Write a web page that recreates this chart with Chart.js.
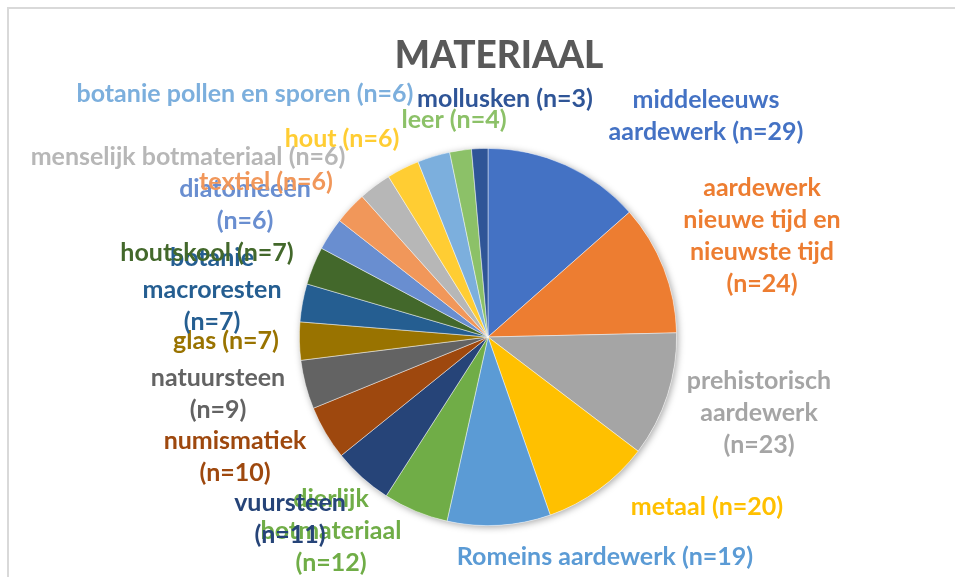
<!DOCTYPE html>
<html>
<head>
<meta charset="utf-8">
<script src="https://cdn.jsdelivr.net/npm/chart.js@4/dist/chart.umd.min.js"></script>
<style>
  html, body { margin: 0; padding: 0; background: #ffffff; }
  #wrap { width: 955px; height: 577px; position: relative; }
</style>
</head>
<body>
<div id="wrap"><canvas id="c" width="955" height="577"></canvas></div>
<script>
const chartTitle = "MATERIAAL";
const categories = [
  "middeleeuws aardewerk",
  "aardewerk nieuwe tijd en nieuwste tijd",
  "prehistorisch aardewerk",
  "metaal",
  "Romeins aardewerk",
  "dierlijk botmateriaal",
  "vuursteen",
  "numismatiek",
  "natuursteen",
  "glas",
  "botanie macroresten",
  "houtskool",
  "diatomeeën",
  "textiel",
  "menselijk botmateriaal",
  "hout",
  "botanie pollen en sporen",
  "leer",
  "mollusken"
];
const counts = [29, 24, 23, 20, 19, 12, 11, 10, 9, 7, 7, 7, 6, 6, 6, 6, 6, 4, 3];
const sliceColors = [
  "#4472C4", "#ED7D31", "#A5A5A5", "#FFC000", "#5B9BD5", "#70AD47",
  "#264478", "#9E480E", "#636363", "#997300", "#255E91", "#43682B",
  "#698ED0", "#F1975A", "#B7B7B7", "#FFCD33", "#7CAFDD", "#8CC168", "#2F5597"
];
// label block centre offsets from the pie centre (px) and wrap width (px)
const labelOffsets = [
  [218, -221, 205], [274, -101, 165], [271, 76, 155], [219, 170, 9999], [117, 220, 9999],
  [-157, 194, 150], [-198, 182, 120], [-253, 120, 160], [-270, 57, 150], [-262, 4, 9999],
  [-276, -47, 150], [-281, -84, 9999], [-243, -132, 145], [-222, -155, 9999], [-300, -180, 9999],
  [-146, -198, 9999], [-243, -243, 9999], [-34, -217, 9999], [17, -238, 9999]
];

const FONT = "Lato, 'Open Sans', sans-serif";
const LABEL_SIZE = 25;
const LINE_H = 32;

function wrapText(ctx, text, maxW) {
  const words = text.split(" ");
  const lines = [];
  let cur = "";
  for (const w of words) {
    const test = cur ? cur + " " + w : w;
    if (cur && ctx.measureText(test).width > maxW) {
      lines.push(cur);
      cur = w;
    } else {
      cur = test;
    }
  }
  if (cur) lines.push(cur);
  return lines;
}

const framePlugin = {
  id: "frame",
  beforeDraw(chart) {
    const ctx = chart.ctx;
    ctx.save();
    ctx.fillStyle = "#ffffff";
    ctx.fillRect(0, 0, chart.width, chart.height);
    ctx.strokeStyle = "#D9D9D9";
    ctx.lineWidth = 2;
    ctx.beginPath();
    ctx.moveTo(8, chart.height + 5);
    ctx.lineTo(8, 8);
    ctx.lineTo(chart.width + 5, 8);
    ctx.stroke();
    // title
    ctx.fillStyle = "#595959";
    ctx.font = "900 37px " + FONT;
    ctx.textAlign = "center";
    ctx.textBaseline = "middle";
    ctx.fillText(chartTitle, 499, 56);
    ctx.restore();
  }
};

const shadowPlugin = {
  id: "pieShadow",
  beforeDatasetsDraw(chart) {
    const arc = chart.getDatasetMeta(0).data[0];
    if (!arc) return;
    const ctx = chart.ctx;
    ctx.save();
    ctx.shadowColor = "rgba(0,0,0,0.35)";
    ctx.shadowBlur = 7;
    ctx.shadowOffsetX = 1.5;
    ctx.shadowOffsetY = 1.5;
    ctx.fillStyle = "#ffffff";
    ctx.beginPath();
    ctx.arc(arc.x, arc.y, arc.outerRadius, 0, Math.PI * 2);
    ctx.fill();
    ctx.restore();
  }
};

const labelPlugin = {
  id: "sliceLabels",
  afterDatasetsDraw(chart) {
    const meta = chart.getDatasetMeta(0);
    const ctx = chart.ctx;
    ctx.save();
    ctx.font = "bold " + LABEL_SIZE + "px " + FONT;
    ctx.textAlign = "center";
    ctx.textBaseline = "middle";
    meta.data.forEach((arc, i) => {
      const text = categories[i] + " (n=" + counts[i] + ")";
      const [dx, dy, w] = labelOffsets[i];
      const lines = wrapText(ctx, text, w);
      const cx = arc.x + dx;
      const cy = arc.y + dy;
      const top = cy - (lines.length - 1) * LINE_H / 2;
      ctx.fillStyle = sliceColors[i];
      lines.forEach((ln, k) => ctx.fillText(ln, cx, top + k * LINE_H));
    });
    ctx.restore();
  }
};

new Chart(document.getElementById("c"), {
  type: "pie",
  data: {
    labels: categories,
    datasets: [{
      data: counts,
      backgroundColor: sliceColors,
      borderColor: "rgba(255,255,255,0.6)",
      borderWidth: 0.75
    }]
  },
  options: {
    responsive: false,
    animation: false,
    layout: { padding: { left: 299, right: 278, top: 148, bottom: 51 } },
    plugins: {
      legend: { display: false },
      title: { display: false },
      tooltip: { enabled: false }
    }
  },
  plugins: [framePlugin, shadowPlugin, labelPlugin]
});
</script>
</body>
</html>
